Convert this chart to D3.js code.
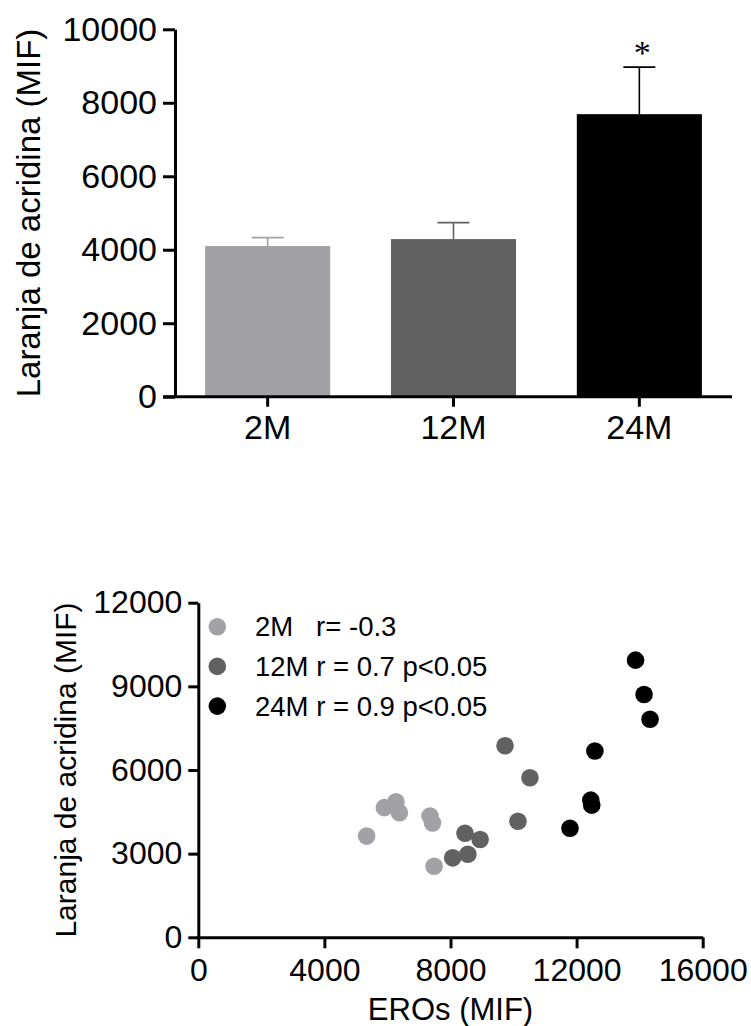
<!DOCTYPE html>
<html>
<head>
<meta charset="utf-8">
<script src="https://cdn.jsdelivr.net/npm/d3@7/dist/d3.min.js"></script>
<style>
  html, body { margin: 0; padding: 0; background: #fff; }
  svg { display: block; }
  text { font-family: "Liberation Sans", Arial, sans-serif; fill: #000; }
</style>
</head>
<body>
<svg id="chart" width="751" height="1026"></svg>
<script>
// ---------- Data ----------
const groups = ["2M", "12M", "24M"];
const barMeans = [4100, 4290, 7690];
const barSem = [230, 450, 1280];
const groupColors = ["#a2a2a6", "#616161", "#000000"];
const barTicks = [0, 2000, 4000, 6000, 8000, 10000];
const sigMarks = ["", "", "*"];

const scatter2M_x = [5340, 5900, 6270, 6380, 7350, 7430, 7480];
const scatter2M_y = [3630, 4650, 4860, 4470, 4350, 4100, 2550];
const scatter12M_x = [9730, 10520, 10140, 8460, 8940, 8550, 8070];
const scatter12M_y = [6870, 5720, 4160, 3730, 3510, 2980, 2850];
const scatter24M_x = [13870, 14140, 14330, 12580, 12450, 12480, 11790];
const scatter24M_y = [9940, 8710, 7820, 6680, 4920, 4740, 3910];
const legendLabels = ["2M   r= -0.3", "12M r = 0.7 p<0.05", "24M r = 0.9 p<0.05"];
const scatterXTicks = [0, 4000, 8000, 12000, 16000];
const scatterYTicks = [0, 3000, 6000, 9000, 12000];

const svg = d3.select("#chart");

function styleAxis(g, fontSize) {
  g.selectAll("path.domain").attr("stroke", "#000").attr("stroke-width", 3);
  g.selectAll(".tick line").attr("stroke", "#000").attr("stroke-width", 3);
  g.selectAll(".tick text").attr("font-size", fontSize)
    .attr("font-family", "'Liberation Sans', Arial, sans-serif").attr("fill", "#000");
}

// ---------- Top: bar chart ----------
const boxTop = { left: 175, right: 732, top: 29.3, bottom: 396.7 };
const xb = d3.scaleBand().domain(groups).range([boxTop.left, boxTop.right])
  .paddingInner(0.327).paddingOuter(0.162);
const yb = d3.scaleLinear().domain([0, 10000]).range([boxTop.bottom, boxTop.top]);

const gTop = svg.append("g");

gTop.selectAll("rect.bar").data(groups).join("rect")
  .attr("class", "bar")
  .attr("x", d => xb(d))
  .attr("y", (d, i) => yb(barMeans[i]))
  .attr("width", xb.bandwidth())
  .attr("height", (d, i) => yb(0) - yb(barMeans[i]))
  .attr("fill", (d, i) => groupColors[i]);

const capW = 32;
groups.forEach((g, i) => {
  const cx = xb(g) + xb.bandwidth() / 2;
  const yTop = yb(barMeans[i] + barSem[i]);
  gTop.append("line").attr("x1", cx).attr("x2", cx)
    .attr("y1", yb(barMeans[i])).attr("y2", yTop)
    .attr("stroke", groupColors[i]).attr("stroke-width", 1.6);
  gTop.append("line").attr("x1", cx - capW / 2).attr("x2", cx + capW / 2)
    .attr("y1", yTop).attr("y2", yTop)
    .attr("stroke", groupColors[i]).attr("stroke-width", 1.8);
  if (sigMarks[i]) {
    gTop.append("text").attr("x", cx + 3).attr("y", yTop - 3.6)
      .attr("text-anchor", "middle")
      .style("font-family", "'Liberation Serif', 'Times New Roman', serif")
      .attr("font-size", 34).text(sigMarks[i]);
  }
});

const axYTop = gTop.append("g").attr("transform", `translate(${boxTop.left},0)`)
  .call(d3.axisLeft(yb).tickValues(barTicks).tickFormat(d3.format("d"))
    .tickSize(12).tickSizeOuter(0).tickPadding(6));
styleAxis(axYTop, 34);

const axXTop = gTop.append("g").attr("transform", `translate(0,${boxTop.bottom})`)
  .call(d3.axisBottom(xb).tickSize(10).tickSizeOuter(0).tickPadding(8));
styleAxis(axXTop, 34);
axXTop.select("path.domain").attr("d", `M${boxTop.left - 12},0H${boxTop.right}`);

gTop.append("text")
  .attr("transform", `translate(40,${(boxTop.top + boxTop.bottom) / 2}) rotate(-90)`)
  .attr("text-anchor", "middle").attr("font-size", 33)
  .text("Laranja de acridina (MIF)");

// ---------- Bottom: scatter ----------
const boxBot = { left: 198.3, right: 702.7, top: 602.7, bottom: 937.3 };
const xs = d3.scaleLinear().domain([0, 16000]).range([boxBot.left, boxBot.right]);
const ys = d3.scaleLinear().domain([0, 12000]).range([boxBot.bottom, boxBot.top]);
const gBot = svg.append("g");

const axXBot = gBot.append("g").attr("transform", `translate(0,${boxBot.bottom})`)
  .call(d3.axisBottom(xs).tickValues(scatterXTicks).tickFormat(d3.format("d"))
    .tickSize(11).tickSizeOuter(0).tickPadding(10));
styleAxis(axXBot, 32);

const axYBot = gBot.append("g").attr("transform", `translate(${boxBot.left},0)`)
  .call(d3.axisLeft(ys).tickValues(scatterYTicks).tickFormat(d3.format("d"))
    .tickSize(10).tickSizeOuter(0).tickPadding(6));
styleAxis(axYBot, 32);

gBot.append("text")
  .attr("transform", `translate(76,${(boxBot.top + boxBot.bottom) / 2}) rotate(-90)`)
  .attr("text-anchor", "middle").attr("font-size", 30)
  .text("Laranja de acridina (MIF)");

gBot.append("text").attr("x", (boxBot.left + boxBot.right) / 2).attr("y", 1020)
  .attr("text-anchor", "middle").attr("font-size", 31).text("EROs (MIF)");

const seriesX = [scatter2M_x, scatter12M_x, scatter24M_x];
const seriesY = [scatter2M_y, scatter12M_y, scatter24M_y];
seriesX.forEach((xsArr, s) => {
  gBot.selectAll(null).data(xsArr).join("circle")
    .attr("cx", d => xs(d))
    .attr("cy", (d, i) => ys(seriesY[s][i]))
    .attr("r", 8.8)
    .attr("fill", groupColors[s]);
});

const legX = 217.3, legY0 = 626.7, legStep = 39.7;
legendLabels.forEach((lab, i) => {
  gBot.append("circle").attr("cx", legX).attr("cy", legY0 + i * legStep)
    .attr("r", 8.8).attr("fill", groupColors[i]);
  gBot.append("text").attr("x", 255).attr("y", legY0 + i * legStep)
    .attr("dy", "0.35em").attr("font-size", 27.5)
    .style("white-space", "pre").text(lab);
});
</script>
</body>
</html>
